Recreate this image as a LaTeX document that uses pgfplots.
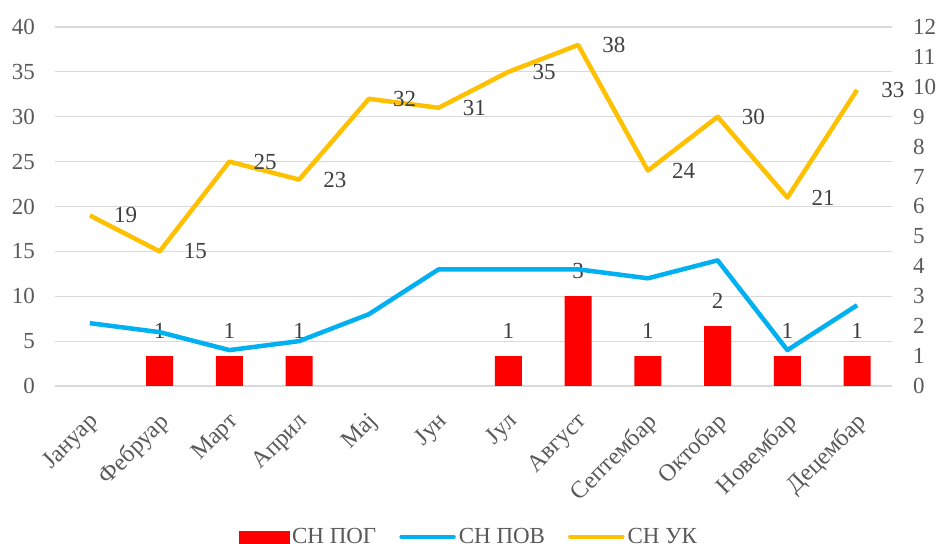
\documentclass[border=0pt]{standalone}
\usepackage{fontspec}
\setmainfont{Liberation Serif}
\usepackage{pgfplots}
\pgfplotsset{compat=1.18}
\definecolor{cblue}{HTML}{00B0F0}
\definecolor{cgold}{HTML}{FFC000}
\definecolor{cred}{HTML}{FF0000}
\definecolor{cgrid}{HTML}{D9D9D9}
\definecolor{ctick}{HTML}{595959}
\definecolor{clab}{HTML}{404040}
\pgfplotsset{
  base/.style={
    at={(55pt,158pt)}, anchor=south west, width=837pt, height=359pt, scale only axis,
    xmin=-0.5, xmax=11.5,
    /pgf/number format/assume math mode=true,
    tick style={draw=none},
    axis line style={draw=none},
    font=\fontsize{23}{27}\selectfont,
  }
}
\begin{document}
\begin{tikzpicture}
% grid + left axis
\begin{axis}[base, ymin=0, ymax=40, ytick={0,5,...,40},
  ymajorgrids, grid style={cgrid, line width=1.2pt},
  xtick={0,...,11},
  xticklabels={Јануар,Фебруар,Март,Април,Мај,Јун,Јул,Август,Септембар,Октобар,Новембар,Децембар},
  xticklabel style={ctick, xshift=-2pt, yshift=-25pt, rotate=45, anchor=north east, inner sep=0pt, font=\fontsize{24}{28}\selectfont},
  yticklabel style={ctick, anchor=east, inner sep=0pt, xshift=-20pt},
]
\addplot[draw=none] coordinates {(0,0)};
\end{axis}
% bars, right axis
\begin{axis}[base, ymin=0, ymax=12, ytick={0,...,12},
  axis y line*=right, axis x line=none,
  yticklabel style={ctick, anchor=west, inner sep=0pt, xshift=21pt},
]
\addplot[ybar, bar width=27pt, fill=cred, draw=none,
  nodes near coords,
  every node near coord/.style={clab, inner sep=0pt, anchor=south, yshift=17pt, font=\fontsize{23}{27}\selectfont},
] coordinates {(1,1) (2,1) (3,1) (6,1) (7,3) (8,1) (9,2) (10,1) (11,1)};
\end{axis}
% lines
\begin{axis}[base, ymin=0, ymax=40, hide axis,
  legend columns=3,
  legend style={at={(0.495,-0.42)}, anchor=center, draw=none, fill=none,
    font=\fontsize{23}{27}\selectfont, text=ctick,
    nodes={inner sep=3pt},
    /tikz/every even column/.append style={column sep=20pt}},
]
\addlegendimage{legend image code/.code={\fill[cred] (0pt,-6pt) rectangle (50pt,6pt);}}
\addlegendentry{СН ПОГ}
\addplot[cblue, line width=4.5pt, line join=round,
  legend image code/.code={\draw[line width=4.5pt, line cap=round] (0pt,0pt) -- (52pt,0pt);}]
  coordinates {(0,7) (1,6) (2,4) (3,5) (4,8) (5,13) (6,13) (7,13) (8,12) (9,14) (10,4) (11,9)};
\addlegendentry{СН ПОВ}
\addplot[cgold, line width=4.5pt, line join=round,
  nodes near coords,
  every node near coord/.style={clab, inner sep=0pt, anchor=west, xshift=22pt, font=\fontsize{23}{27}\selectfont},
  legend image code/.code={\draw[line width=4.5pt, line cap=round] (0pt,0pt) -- (52pt,0pt);}]
  coordinates {(0,19) (1,15) (2,25) (3,23) (4,32) (5,31) (6,35) (7,38) (8,24) (9,30) (10,21) (11,33)};
\addlegendentry{СН УК}
\end{axis}
\pgfresetboundingbox
\path[use as bounding box] (0,0) rectangle (938pt,544pt);
\end{tikzpicture}
\end{document}
